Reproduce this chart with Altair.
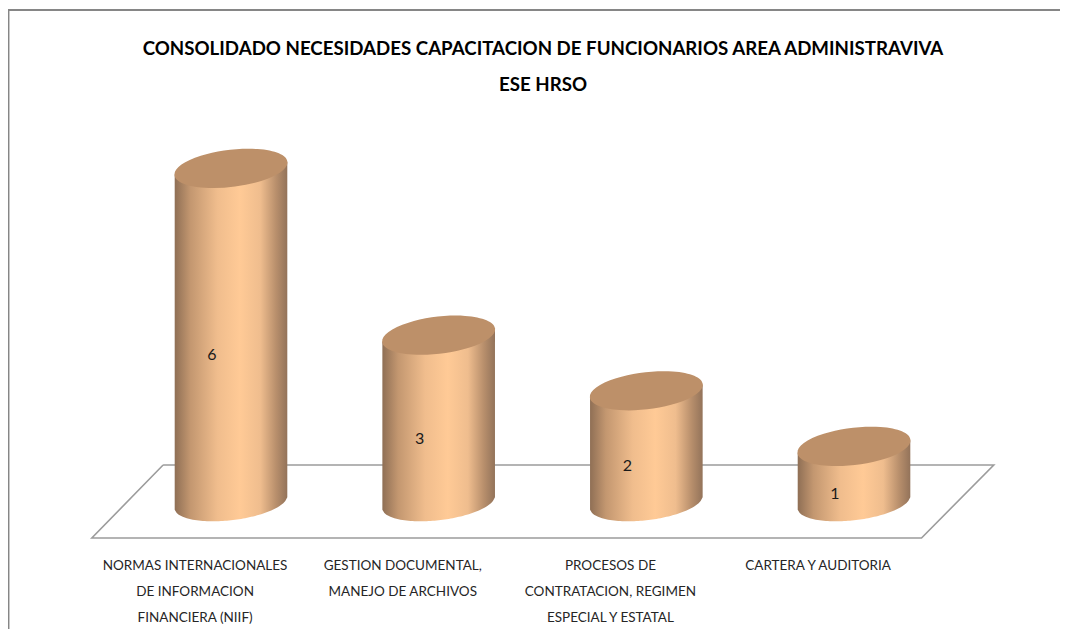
import math
import altair as alt
import pandas as pd

categories = ["NORMAS INTERNACIONALES\nDE INFORMACION\nFINANCIERA (NIIF)",
              "GESTION DOCUMENTAL,\nMANEJO DE ARCHIVOS",
              "PROCESOS DE\nCONTRATACION, REGIMEN\nESPECIAL Y ESTATAL",
              "CARTERA Y AUDITORIA"]
values = [6, 3, 2, 1]
title_lines = ["CONSOLIDADO NECESIDADES CAPACITACION DE FUNCIONARIOS AREA ADMINISTRAVIVA", "ESE HRSO"]

W, H = 1052, 621
XD = [(8 - 231) / 207.67, (8 + W - 231) / 207.67]
YD = [(502 - 8 - H) / 55.6, (502 - 8) / 55.6]
xs = alt.Scale(domain=XD, nice=False, zero=False)
ys = alt.Scale(domain=YD, nice=False, zero=False)

df = pd.DataFrame({"i": range(4), "cat": categories, "v": values})

# cylinder geometry (ellipse second moments, px)
sxx, syy, sxy = 56.5 ** 2, 19.3 ** 2, -6.2 * 56.5
rows = []
for i, v in zip(df.i, df.v):
    for k in range(-28, 29):
        dx = 56.3 * k / 28
        mean = sxy / sxx * dx
        half = math.sqrt(max(0, (syy - sxy ** 2 / sxx) * (1 - dx ** 2 / sxx)))
        rows.append({"i": i, "x": i + dx / 207.67,
                     "top": v - mean / 55.6,
                     "bot": -(mean + half) / 55.6})
body = pd.DataFrame(rows)

a, b, th = 1.006, 0.326, -6.8
c, s = math.cos(math.radians(th)), math.sin(math.radians(th))
ell = (f"M {-a*c:.4f} {-a*s:.4f} A {a} {b} {th} 1 1 {a*c:.4f} {a*s:.4f} "
       f"A {a} {b} {th} 1 1 {-a*c:.4f} {-a*s:.4f} Z")

floor_df = pd.DataFrame({"x": [-0.327, 3.673, 3.325, -0.670, -0.327],
                         "y": [0.665, 0.665, -0.647, -0.647, 0.665],
                         "o": range(5)})

X = lambda f="i": alt.X(f"{f}:Q", scale=xs, axis=None)
Y = lambda f="v": alt.Y(f"{f}:Q", scale=ys, axis=None)

grad = alt.Gradient(gradient="linear", x1=0, x2=1, y1=0, y2=0, stops=[
    alt.GradientStop(offset=0, color="#8f6f55"),
    alt.GradientStop(offset=0.14, color="#c39770"),
    alt.GradientStop(offset=0.38, color="#f0bd8d"),
    alt.GradientStop(offset=0.58, color="#ffca96"),
    alt.GradientStop(offset=0.76, color="#efbd8e"),
    alt.GradientStop(offset=0.9, color="#b88f6c"),
    alt.GradientStop(offset=1, color="#93735a"),
])

floor = alt.Chart(floor_df).mark_line(color="#9c9c9c", strokeWidth=1.6).encode(
    x=X("x"), y=Y("y"), order="o:Q")
bodies = alt.Chart(body).mark_area(fill=grad, interpolate="linear").encode(
    x=X("x"), y=Y("top"), y2="bot:Q", detail="i:N")
tops = alt.Chart(df).mark_point(shape=ell, size=113 ** 2, filled=True, fill="#bd9069",
                                opacity=1, strokeWidth=0).encode(x=X(), y=Y())
vals = alt.Chart(df).transform_calculate(mid="datum.v/2").mark_text(
    font="Lato", fontSize=16, color="#1a1a1a", dx=-19, dy=20).encode(
    x=X(), y=Y("mid"), text="v:Q")
labels = alt.Chart(df).transform_calculate(lx="datum.i-0.173").mark_text(
    font="Lato", fontSize=13.5, color="#262626", lineBreak="\n",
    lineHeight=26, baseline="top", align="center").encode(
    x=X("lx"), y=alt.value(551), text="cat:N")
titles = [alt.Chart(pd.DataFrame({"t": [t]})).mark_text(
    font="Lato", fontWeight="bold", fontSize=18.7, color="#000000").encode(
    x=alt.value(535), y=alt.value(yy), text="t:N")
    for t, yy in zip(title_lines, [41, 77])]
border_l = alt.Chart(df.head(1)).mark_rule(color="#868686", strokeWidth=1.5).encode(
    x=alt.value(0.7), y=alt.value(2), y2=alt.value(H))
border_t = alt.Chart(df.head(1)).mark_rule(color="#868686", strokeWidth=2).encode(
    x=alt.value(0), x2=alt.value(W), y=alt.value(2))

chart = alt.layer(border_l, border_t, floor, bodies, tops, vals, labels, *titles).properties(
    width=W, height=H, padding=0, autosize=alt.AutoSizeParams(type="none"),
    background="white").configure_view(stroke=None)
chart.save("out.html", embed_options={"renderer": "svg", "actions": False})
